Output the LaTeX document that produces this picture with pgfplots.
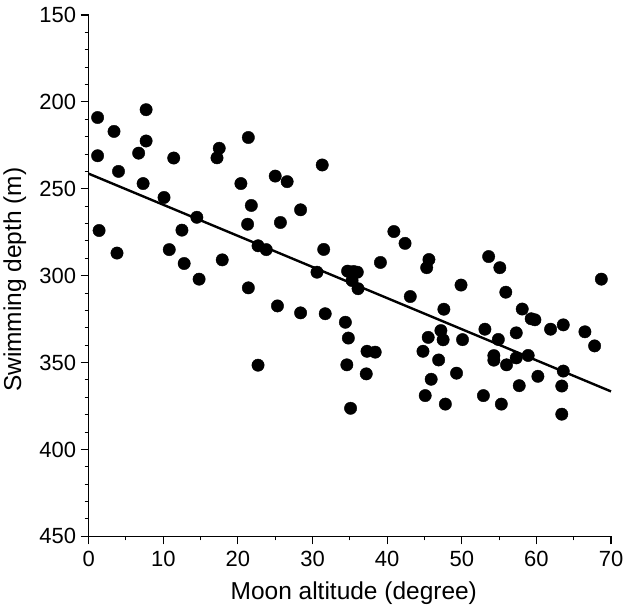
\documentclass[border=0pt]{standalone}
\usepackage{fontspec}
\setmainfont{Liberation Sans}
\usepackage{pgfplots}
\pgfplotsset{compat=1.18}

% moon altitude (degree) vs swimming depth (m)
\pgfplotstableread{
x y
1.2 209
1.2 231
1.4 274
3.4 217
4.0 240
3.8 287
7.7 204.5
7.7 222.5
6.7 229.5
7.3 247
10.1 255
11.4 232.3
12.5 273.8
10.8 285
12.8 293
14.5 266.4
14.8 302
17.5 226.7
17.2 232.2
17.9 290.9
21.4 220.5
20.4 247
21.8 259.6
21.3 270.4
21.4 307
22.7 282.8
23.8 285
22.7 351.5
25.0 242.7
26.6 245.9
25.7 269.4
28.4 262.1
25.3 317.4
28.4 321.4
31.3 236.3
31.5 284.9
30.6 298
31.7 321.9
34.7 297.4
35.5 297.6
36.0 298
35.3 302.8
36.1 307.5
34.4 326.8
34.8 335.9
34.6 351.3
35.1 376.3
37.3 343.5
38.4 344
37.2 356.5
39.1 292.4
40.9 274.6
42.4 281.4
43.1 312
45.6 290.7
45.3 295.4
47.6 319.3
47.2 331.6
47.5 336.9
45.5 335.5
44.8 343.5
46.9 348.5
45.9 359.6
45.1 369
47.8 373.9
49.9 305.4
50.1 336.8
49.3 356.1
53.6 289
55.1 295.4
55.9 309.5
53.1 330.8
54.9 336.7
54.3 346
54.3 348.6
56.0 351.3
52.9 369
55.3 373.9
58.1 319.2
59.3 324.8
59.8 325.4
57.3 332.9
58.9 345.9
57.3 347.3
57.7 363.3
60.2 357.9
61.9 330.8
63.6 328.3
63.6 354.9
63.4 363.5
63.4 379.7
66.5 332.3
67.8 340.4
68.7 302
}\depthdata

\begin{document}
\begin{tikzpicture}
\begin{axis}[
  name=ax,
  scale only axis,
  width=523pt, height=522pt,
  xmin=0, xmax=70, ymin=150, ymax=450,
  y dir=reverse,
  axis x line=bottom, axis y line=left,
  axis line style={-, line width=1.2pt},
  xtick={0,10,...,70}, ytick={150,200,...,450},
  minor x tick num=1, minor y tick num=4,
  tick align=outside,
  major tick length=8pt, minor tick length=4pt,
  every tick/.style={black, line width=1.2pt},
  every minor tick/.style={black, line width=1pt},
  tick label style={font=\fontsize{22}{26}\selectfont},
  /pgf/number format/assume math mode=true,
  xticklabel style={yshift=-3pt},
  yticklabel style={xshift=-1pt},
  xlabel={Moon altitude (degree)},
  ylabel={Swimming depth (m)},
  label style={font=\fontsize{24.5}{28}\selectfont},
  xlabel style={at={(axis description cs:0.5,0)}, anchor=base, yshift=-63pt, xshift=4pt},
  ylabel style={at={(axis description cs:0,0.5)}, anchor=center, rotate=0, yshift=74pt, xshift=-4pt},
  clip=false,
]
\addplot[only marks, mark=*, mark size=6.2pt, mark options={fill=black, draw=black}] table[x=x, y=y] {\depthdata};
\addplot[black, line width=2.4pt] coordinates {(0,241.3) (70,366.6)};
\end{axis}
\path (ax.south west) ++(-88pt,-70pt) (ax.north east) ++(17pt,15pt);
\end{tikzpicture}
\end{document}
